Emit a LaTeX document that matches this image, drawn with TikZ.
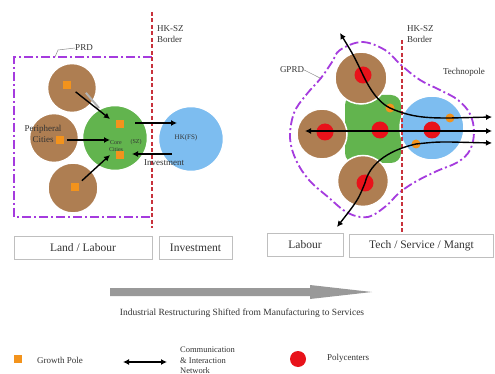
\documentclass[tikz,border=0pt]{standalone}
\usepackage{fontspec}
\setmainfont{Liberation Serif}
\usetikzlibrary{arrows.meta,shapes.geometric}
\definecolor{brownc}{HTML}{AE7E52}
\definecolor{greenc}{HTML}{62B44E}
\definecolor{bluec}{HTML}{7DBDF0}
\definecolor{orangec}{HTML}{F3931C}
\definecolor{redc}{HTML}{E8121A}
\definecolor{purplec}{HTML}{A53BDE}
\definecolor{borderc}{HTML}{C8323C}
\definecolor{textc}{HTML}{333333}
\begin{document}
\begin{tikzpicture}[x=1pt,y=-1pt,
  city/.style={circle,fill=brownc,draw=white,line width=1.5pt,inner sep=0pt},
  core/.style={circle,fill=greenc,draw=white,line width=1.5pt,inner sep=0pt},
  hk/.style={circle,fill=bluec,draw=white,line width=1.5pt,inner sep=0pt},
  pole/.style={rectangle,fill=orangec,minimum size=7.5pt,inner sep=0pt},
  rpole/.style={circle,fill=orangec,minimum size=9pt,inner sep=0pt},
  poly/.style={circle,fill=redc,minimum size=17pt,inner sep=0pt},
  flow/.style={-{Latex[length=6pt,width=6pt]},line width=1.4pt,black},
  flowtwo/.style={{Latex[length=6pt,width=6pt]}-{Latex[length=6pt,width=6pt]},line width=1.4pt,black},
  hkborder/.style={draw=borderc,line width=1.7pt,dash pattern=on 4pt off 2.5pt},
  region/.style={draw=purplec,line width=1.8pt,dash pattern=on 9pt off 3pt on 2pt off 3pt},
  lbl/.style={font=\fontsize{9}{11}\selectfont,text=textc,align=center,inner sep=0pt},
  tiny/.style={font=\fontsize{6}{6.5}\selectfont,text=textc,align=center,inner sep=0pt},
  labelbox/.style={draw=black!25,line width=0.6pt,minimum height=23pt,font=\fontsize{11.5}{13}\selectfont,text=textc,inner sep=0pt}
]
\useasboundingbox (0,0) rectangle (495,374);
\fill[white] (0,0) rectangle (495,374);

% ================= LEFT PANEL =================
\draw[region] (152,57) -- (14,57) -- (14,217) -- (152,217);
\draw[hkborder] (152,12) -- (152,228);
\node[lbl,anchor=north west,align=left] (bl) at (157,25) {HK-SZ\\Border};
\node[lbl] (prd) at (84,48) {PRD};
\draw[black!45,line width=0.5pt] (55,57) -- (58,50) -- (prd.west);

\node[city,minimum size=49pt] (ct) at (72,88) {};
\node[city,minimum size=49pt] (cm) at (54,138) {};
\node[city,minimum size=50pt] (cb) at (73,188) {};
\node[core,minimum size=65pt] (cc) at (115,138) {};
\node[hk,minimum size=65pt] (hkc) at (191,139) {};

\node[pole] (pt) at (67,85) {};
\node[pole] (pm) at (60,140) {};
\node[pole] (pb) at (75,187) {};
\node[pole] (gc1) at (120,124) {};
\node[pole] (gc2) at (120,155) {};

\node[lbl] (peri) at (43,134) {Peripheral\\Cities};
\node[tiny] (corel) at (116,146) {Core\\Cities};
\node[tiny] (sz) at (136,142) {(SZ)};
\node[lbl,font=\fontsize{7}{8}\selectfont] (hkl) at (186,138) {HK(FS)};
\node[lbl] (inv) at (164,163) {Investment};

\coordinate (t1) at (110,119);
\coordinate (m1) at (110,140);
\coordinate (b1) at (110,155);
\coordinate (gs) at (135,123);
\coordinate (ge) at (177,123);
\coordinate (hs) at (172,154);
\coordinate (he) at (132,154);
\draw[black!30,line width=2pt,shorten <=9pt] (ct.center) ++(8,-2) coordinate (shs) -- ++(19,22) coordinate (she);
\draw[flow,shorten <=6pt] (pt) -- (t1);
\draw[flow,shorten <=3pt] (pm) -- (m1);
\draw[flow,shorten <=4pt] (pb) -- (b1);
\draw[flow] (gs) -- (ge);
\draw[flow] (hs) -- (he);

\node[labelbox,minimum width=138pt] (land) at (83,247.5) {Land / Labour};
\node[labelbox,minimum width=73pt] (invb) at (195.5,247.5) {Investment};

% ================= RIGHT PANEL =================
\draw[region] plot[smooth cycle,tension=0.6] coordinates {
 (340,50) (362,42) (385,50) (401,65) (420,80) (440,90) (458,100) (470,114)
 (474,132) (470,150) (458,162) (437,171) (415,182) (399,193) (386,206)
 (368,217) (348,213) (328,197) (309,180) (296,160) (290,138) (294,113)
 (306,95) (321,78) (332,62)};
\node[lbl] (gprd) at (292,70) {GPRD};
\draw[black!45,line width=0.5pt] (gprd.east) -- (320,78);
\node[lbl] (techno) at (464,72) {Technopole};

\node[draw=none,fill=greenc,rounded corners=10pt,minimum width=56pt,minimum height=68pt,inner sep=0pt] (gr) at (373,129) {};
\node[city,minimum size=52pt] (rt) at (361,78) {};
\node[city,minimum size=50pt] (rl) at (322,134) {};
\node[city,minimum size=51pt] (rb) at (363,181) {};
\node[hk,minimum size=64pt] (rbl) at (432,128) {};
\draw[hkborder] (402,40) -- (402,232);
\node[lbl,anchor=north west,align=left] (br) at (407,25) {HK-SZ\\Border};

\node[poly] (p1) at (363,75) {};
\node[poly] (p2) at (325,132) {};
\node[poly] (p3) at (380,130) {};
\node[poly] (p4) at (432,130) {};
\node[poly] (p5) at (365,183) {};
\node[rpole] (g1) at (390,108) {};
\node[rpole] (g2) at (450,118) {};
\node[rpole] (g3) at (416,144) {};

\coordinate (ha) at (305,131);
\coordinate (hb) at (492,131);
\coordinate (ua) at (340,33);
\coordinate (ub) at (492,117);
\coordinate (la) at (337,227);
\coordinate (lb) at (492,143);
\draw[flowtwo] (ha) -- (hb);
\draw[flowtwo] (ua) .. controls (354,56) .. (p1.center)
   .. controls (373,96) and (382,104) .. (g1.center)
   .. controls (412,118) and (430,118) .. (g2.center) -- (ub);
\draw[flowtwo] (lb) -- (450,142) .. controls (435,142) .. (g3.center)
   .. controls (385,151) and (369,166) .. (p5.center)
   .. controls (358,200) .. (la);

\node[labelbox,minimum width=76pt] (lab) at (305,245) {Labour};
\node[labelbox,minimum width=144pt] (tech) at (421.5,245.5) {Tech / Service / Mangt};

% ================= SHIFT ARROW =================
\fill[black!40] (110,288) -- (310,288) -- (310,285) -- (372,292) -- (310,299) -- (310,296) -- (110,296) -- cycle;
\node[lbl,font=\fontsize{9.5}{11}\selectfont] (cap) at (242,313) {Industrial Restructuring Shifted from Manufacturing to Services};

% ================= LEGEND =================
\node[pole,minimum size=8pt] (lp) at (18,359) {};
\node[lbl,anchor=west] (lpt) at (37,360) {Growth Pole};
\coordinate (lda) at (123,362);
\coordinate (ldb) at (167,362);
\draw[flowtwo] (lda) -- (ldb);
\node[lbl,anchor=north west,align=left,font=\fontsize{8.5}{10.3}\selectfont] (ldt) at (180,347) {Communication\\\& Interaction\\Network};
\node[poly,minimum size=16pt] (lr) at (298,359) {};
\node[lbl,anchor=west] (lrt) at (327,358) {Polycenters};
\end{tikzpicture}
\end{document}
